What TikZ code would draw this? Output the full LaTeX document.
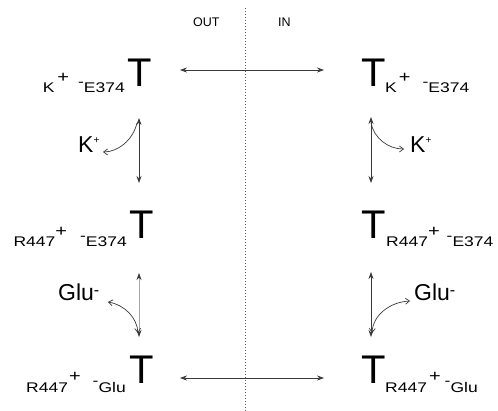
\documentclass[tikz,border=0pt]{standalone}
\usepackage{fontspec}
\setmainfont{Liberation Sans}
\newfontfamily\subf[FakeStretch=1.25]{Liberation Sans}
\usetikzlibrary{arrows.meta}
\definecolor{ln}{HTML}{3A3A3A}
\newcommand\plusup{\raisebox{10pt}{\fontsize{16}{16}\selectfont +}}
\newcommand\minusup{\raisebox{6pt}{-}}
\tikzset{
 bigT/.style={font=\fontsize{40}{40}\selectfont, inner sep=0pt, anchor=base west},
 subgL/.style={font=\subf\fontsize{14}{14}\selectfont, inner sep=0pt, anchor=base east},
 subgR/.style={font=\subf\fontsize{14}{14}\selectfont, inner sep=0pt, anchor=base west},
 ion/.style={font=\fontsize{23}{23}\selectfont, inner sep=0pt, anchor=base west},
 side/.style={font=\fontsize{12.5}{12.5}\selectfont, inner sep=0pt, anchor=base west},
 conv/.style={ln, line width=0.7pt, {Stealth[length=7pt,width=5pt]}-{Stealth[length=7pt,width=5pt]}},
 faint/.style={ln!45, line width=0.7pt, {Stealth[length=7pt,width=5pt,color=ln]}-{Stealth[length=7pt,width=5pt,color=ln]}},
 bind/.style={ln, line width=0.7pt, -{Straight Barb[length=4pt,width=6pt]}},
 bindd/.style={ln, line width=0.7pt, {Straight Barb[length=4pt,width=6pt]}-{Straight Barb[length=4pt,width=6pt]}},
 sep/.style={ln!80, line width=1pt, dotted},
}
\begin{document}
\begin{tikzpicture}[x=1pt,y=-1pt]
\useasboundingbox (0,0) rectangle (498,411);
% membrane
\coordinate (dtop) at (245,8);
\coordinate (dbot) at (245,411);
\draw[sep] (dtop) -- (dbot);
\node[side] (out) at (193,27) {OUT};
\node[side] (in) at (278,27) {IN};
% row 1
\node[bigT] (TL1) at (127,87) {T};
\node[subgL] (SL1) at (125,93) {K\hspace{3pt}\plusup\hspace{9pt}\minusup E374};
\node[bigT] (TR1) at (361,87) {T};
\node[subgR] (SR1) at (385,93) {K\hspace{2pt}\plusup\hspace{12pt}\minusup E374};
% row 2
\node[bigT] (TL2) at (129,239) {T};
\node[subgL] (SL2) at (127,247) {R447\plusup\hspace{13pt}\minusup E374};
\node[bigT] (TR2) at (361,239) {T};
\node[subgR] (SR2) at (386,247) {R447\plusup\hspace{7pt}\minusup E374};
% row 3
\node[bigT] (TL3) at (129,384) {T};
\node[subgL] (SL3) at (126,392) {R447\hspace{1pt}\plusup\hspace{12pt}\minusup Glu};
\node[bigT] (TR3) at (361,384) {T};
\node[subgR] (SR3) at (385,392) {R447\hspace{2pt}\plusup\hspace{4pt}\minusup Glu};
% ions
\node[ion] (KL) at (78,153) {K\raisebox{9pt}{\fontsize{10}{10}\selectfont +}};
\node[ion] (KR) at (410,153) {K\raisebox{9pt}{\fontsize{10}{10}\selectfont +}};
\node[ion] (GL) at (58,301) {Glu\raisebox{5pt}{\fontsize{16}{16}\selectfont -}};
\node[ion] (GR) at (414,301) {Glu\raisebox{5pt}{\fontsize{16}{16}\selectfont -}};
% horizontal transitions
\coordinate (h1a) at (180,70); \coordinate (h1b) at (324,70);
\coordinate (h3a) at (180,378); \coordinate (h3b) at (324,378);
\draw[conv] (h1a) -- (h1b);
\draw[conv] (h3a) -- (h3b);
% vertical transitions
\coordinate (vL1) at (139,118); \coordinate (vL2) at (139,183);
\coordinate (vR1) at (371,117); \coordinate (vR2) at (371,183);
\coordinate (vL3) at (139,273); \coordinate (vL4) at (139,337);
\coordinate (vR3) at (371,272); \coordinate (vR4) at (371,337);
\draw[conv] (vL1) -- (vL2);
\draw[conv] (vR1) -- (vR2);
\draw[faint] (vL3) -- (vL4);
\draw[conv] (vR3) -- (vR4);
% binding curves
\coordinate (kLs) at (137,123); \coordinate (kLe) at (103,152);
\coordinate (kRs) at (371,123); \coordinate (kRe) at (404,149);
\coordinate (gLs) at (108,302); \coordinate (gLe) at (138,333);
\coordinate (gRs) at (372,333); \coordinate (gRe) at (410,301);
\draw[bind] (kLs) .. controls (133,140) and (118,152) .. (kLe);
\draw[bind] (kRs) .. controls (374,138) and (388,149) .. (kRe);
\draw[bindd] (gLs) .. controls (125,305) and (137,318) .. (gLe);
\draw[bindd] (gRs) .. controls (373,315) and (390,302) .. (gRe);
\end{tikzpicture}
\end{document}
